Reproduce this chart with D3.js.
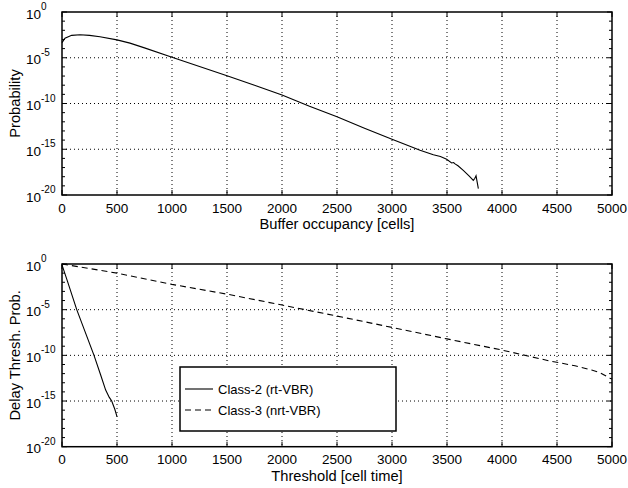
<!DOCTYPE html>
<html><head><meta charset="utf-8">
<script src="https://cdn.jsdelivr.net/npm/d3@7"></script>
<style>body{margin:0;background:#fff}svg{display:block}</style>
</head><body>
<svg id="c" width="628" height="488"></svg>
<script>
// Top panel: buffer occupancy distribution
const bufCells = [0, 27, 88, 164, 250, 345, 500, 618, 750, 1000, 1250, 1500, 1750, 2000, 2250, 2500, 2750, 3000, 3255, 3376, 3440, 3497, 3542, 3560, 3573, 3600, 3648, 3700, 3724, 3739, 3752, 3764, 3785];
const bufLogP  = [-3.35, -2.87, -2.55, -2.48, -2.55, -2.7, -3.05, -3.4, -3.92, -4.95, -5.95, -6.96, -8.0, -9.07, -10.3, -11.45, -12.7, -13.9, -15.1, -15.6, -15.8, -16.1, -16.5, -16.45, -16.6, -16.8, -17.3, -17.9, -18.2, -18.4, -18.2, -17.9, -19.3];
// Bottom panel: delay threshold probability
const c2Thr  = [0, 50, 134, 200, 291, 350, 397, 430, 452, 480, 500];
const c2LogP = [-0.1, -1.9, -5.0, -7.1, -10.0, -12.1, -13.8, -14.6, -15.0, -15.9, -16.7];
const c3Thr  = [0, 500, 1000, 1500, 2000, 2500, 3000, 3500, 4000, 4436, 4664, 4815, 4891, 4982, 5000];
const c3LogP = [0, -1.0, -2.23, -3.3, -4.49, -5.7, -6.94, -8.2, -9.42, -10.62, -11.14, -11.6, -11.9, -12.5, -12.6];
const xTicks = [0, 500, 1000, 1500, 2000, 2500, 3000, 3500, 4000, 4500, 5000];
const yMajorExp = [0, -5, -10, -15, -20];
const seriesNames = ["Class-2 (rt-VBR)", "Class-3 (nrt-VBR)"];
const xLabels = ["Buffer occupancy [cells]", "Threshold [cell time]"];
const yLabels = ["Probability", "Delay Thresh. Prob."];

const svg = d3.select("#c");
const FONT = "'Liberation Sans', Arial, Helvetica, sans-serif";

function panel(top, bottom, xLabel, yLabel, series) {
  const x = d3.scaleLinear().domain([0, 5000]).range([62, 612]);
  const y = d3.scaleLog().domain([1e-20, 1]).range([bottom, top]);
  const g = svg.append("g");
  // grid
  xTicks.slice(1, -1).forEach(t => {
    g.append("line").attr("x1", x(t)).attr("x2", x(t)).attr("y1", top).attr("y2", bottom)
      .attr("stroke", "#000").attr("stroke-width", 1).attr("stroke-dasharray", "1,3");
  });
  yMajorExp.slice(1, -1).forEach(e => {
    g.append("line").attr("x1", 62).attr("x2", 612).attr("y1", y(Math.pow(10, e))).attr("y2", y(Math.pow(10, e)))
      .attr("stroke", "#000").attr("stroke-width", 1).attr("stroke-dasharray", "1,3");
  });
  // minor ticks each decade
  for (let e = -19; e <= -1; e++) {
    if (e % 5 === 0) continue;
    const yy = y(Math.pow(10, e));
    g.append("line").attr("x1", 62).attr("x2", 65).attr("y1", yy).attr("y2", yy).attr("stroke", "#000");
    g.append("line").attr("x1", 609).attr("x2", 612).attr("y1", yy).attr("y2", yy).attr("stroke", "#000");
  }
  yMajorExp.forEach(e => {
    const yy = y(Math.pow(10, e));
    g.append("line").attr("x1", 62).attr("x2", 67).attr("y1", yy).attr("y2", yy).attr("stroke", "#000");
    g.append("line").attr("x1", 607).attr("x2", 612).attr("y1", yy).attr("y2", yy).attr("stroke", "#000");
    const t = g.append("text").attr("x", 26).attr("y", yy + 6.5).attr("font-family", FONT).attr("font-size", 13.5);
    t.append("tspan").text("10");
    t.append("tspan").attr("dy", -8.5).attr("font-size", 10).text(String(e));
  });
  xTicks.forEach(t => {
    g.append("line").attr("x1", x(t)).attr("x2", x(t)).attr("y1", bottom).attr("y2", bottom - 5).attr("stroke", "#000");
    g.append("line").attr("x1", x(t)).attr("x2", x(t)).attr("y1", top).attr("y2", top + 5).attr("stroke", "#000");
    g.append("text").attr("x", x(t)).attr("y", bottom + 17.5).attr("text-anchor", "middle")
      .attr("font-family", FONT).attr("font-size", 13.5).text(t);
  });
  // series
  series.forEach(s => {
    const pts = s.xs.map((v, i) => [v, Math.pow(10, s.ys[i])]);
    g.append("path").attr("d", d3.line().x(d => x(d[0])).y(d => y(d[1]))(pts))
      .attr("fill", "none").attr("stroke", "#000").attr("stroke-width", 1.1)
      .attr("stroke-dasharray", s.dash || null);
  });
  // frame
  g.append("rect").attr("x", 62).attr("y", top).attr("width", 550).attr("height", bottom - top)
    .attr("fill", "none").attr("stroke", "#000").attr("stroke-width", 1.5);
  // labels
  g.append("text").attr("x", 337).attr("y", bottom + 34).attr("text-anchor", "middle")
    .attr("font-family", FONT).attr("font-size", 14.7).text(xLabel);
  g.append("text").attr("transform", `translate(20,${(top + bottom) / 2}) rotate(-90)`).attr("text-anchor", "middle")
    .attr("font-family", FONT).attr("font-size", 14.7).text(yLabel);
  return {x, y, g};
}

panel(12, 195, xLabels[0], yLabels[0], [{xs: bufCells, ys: bufLogP}]);
panel(264, 446.7, xLabels[1], yLabels[1], [
  {xs: c2Thr, ys: c2LogP},
  {xs: c3Thr, ys: c3LogP, dash: "6,4"}
]);

// legend
const lg = svg.append("g");
lg.append("rect").attr("x", 180).attr("y", 367).attr("width", 216).attr("height", 64)
  .attr("fill", "#fff").attr("stroke", "#000").attr("stroke-width", 1.5);
seriesNames.forEach((n, i) => {
  const yy = 389 + i * 21;
  lg.append("line").attr("x1", 185).attr("x2", 213).attr("y1", yy).attr("y2", yy)
    .attr("stroke", "#000").attr("stroke-width", 1.1).attr("stroke-dasharray", i ? "6,4" : null);
  lg.append("text").attr("x", 218).attr("y", yy + 5).attr("font-family", FONT).attr("font-size", 13).text(n);
});
</script>
</body></html>
